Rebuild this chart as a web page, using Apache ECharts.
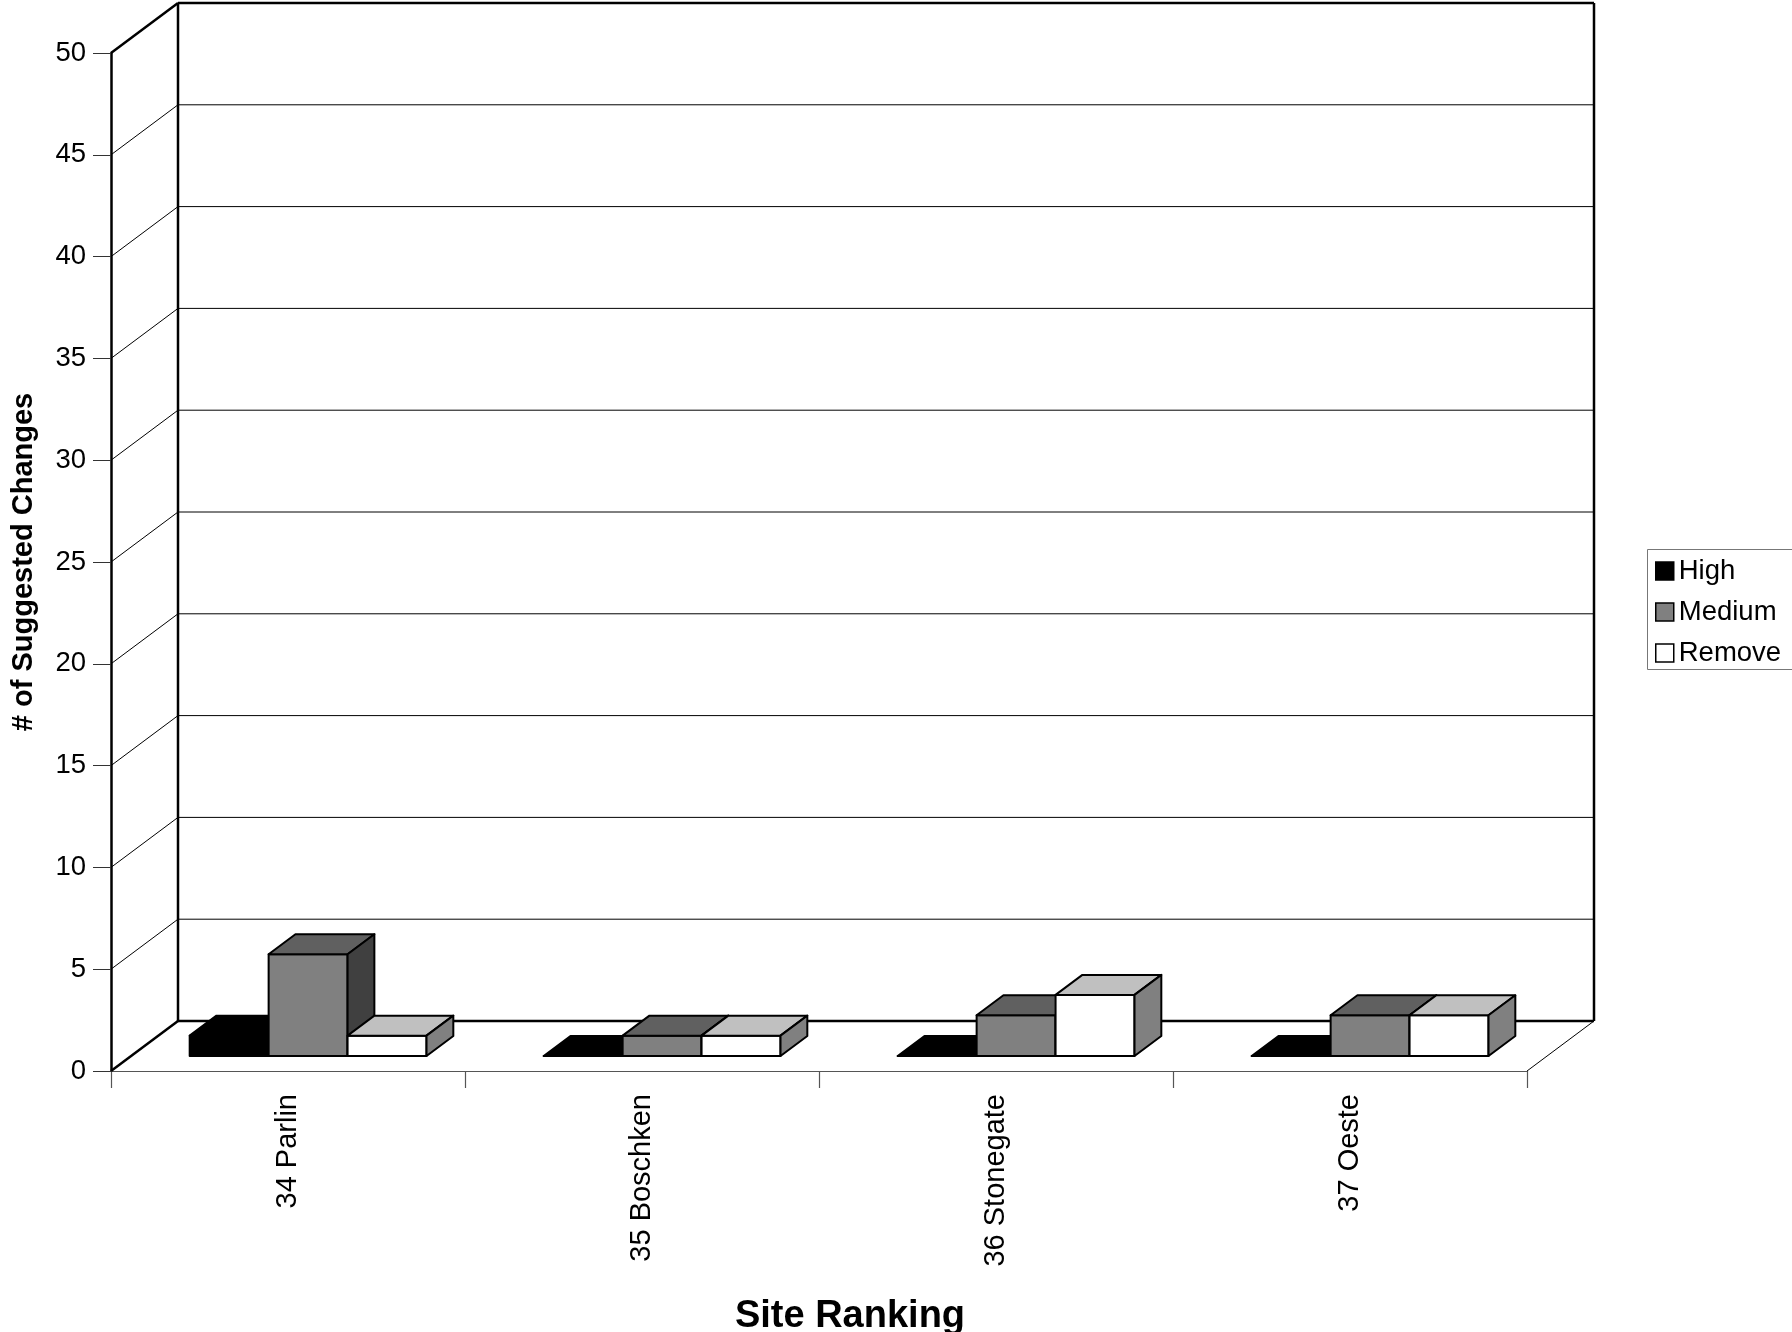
<!DOCTYPE html>
<html>
<head>
<meta charset="utf-8">
<title># of Suggested Changes by Site Ranking</title>
<script src="https://cdn.jsdelivr.net/npm/echarts@6/dist/echarts.min.js"></script>
<style>
  html, body { margin: 0; padding: 0; background: #ffffff; }
  #chart { width: 1792px; height: 1332px; }
</style>
</head>
<body>
<div id="chart"></div>
<script>
// Site categories along the floor of the 3D box
const categories = ['34 Parlin', '35 Boschken', '36 Stonegate', '37 Oeste'];

// Number of suggested changes per priority
const highValues = [1, 0, 0, 0];
const mediumValues = [5, 1, 2, 2];
const removeValues = [1, 1, 3, 2];

// Value axis ticks (walls get a gridline at each one)
const yTicks = [0, 5, 10, 15, 20, 25, 30, 35, 40, 45, 50];

const FONT = 'Liberation Sans, Arial, Helvetica, sans-serif';

// Oblique depth of the box (pixels of the receding axis)
const DEPTH_X = 67;
const DEPTH_Y = 50;
// Bars sit between 30% and 70% of the box depth
const BAR_FRONT = 0.3;
const BAR_DEPTH = 0.4;
const BAR_FRAC = 0.223;

// Face colours: front, top, side
const seriesStyles = {
  High:   { front: '#000000', top: '#000000', side: '#000000' },
  Medium: { front: '#808080', top: '#606060', side: '#404040' },
  Remove: { front: '#ffffff', top: '#c0c0c0', side: '#808080' }
};

function line(x1, y1, x2, y2, w, color) {
  return {
    type: 'line',
    shape: { x1: x1, y1: y1, x2: x2, y2: y2 },
    style: { stroke: color || '#000', lineWidth: w }
  };
}

// Walls: slanted lines on the side wall and horizontal lines on the back wall
function renderWalls(params, api) {
  const v = api.value(0);
  const cs = params.coordSys;
  const y = api.coord([0, v])[1];
  const x0 = cs.x;
  const x1 = cs.x + cs.width;
  const edge = (v === yTicks[0] || v === yTicks[yTicks.length - 1]);
  const w = edge ? 2.5 : 1;
  const children = [
    line(x0, y, x0 + DEPTH_X, y - DEPTH_Y, w),
    line(x0 + DEPTH_X, y - DEPTH_Y, x1 + DEPTH_X, y - DEPTH_Y, w)
  ];
  if (v === yTicks[0]) {
    const yTop = api.coord([0, yTicks[yTicks.length - 1]])[1];
    children.push(line(x1, y, x1 + DEPTH_X, y - DEPTH_Y, 1));
    children.push(line(x0 + DEPTH_X, y - DEPTH_Y, x0 + DEPTH_X, yTop - DEPTH_Y, 2.5));
    children.push(line(x1 + DEPTH_X, y - DEPTH_Y, x1 + DEPTH_X, yTop - DEPTH_Y, 2.5));
  }
  return { type: 'group', children: children };
}

// 3D box bar for the k-th series of a category
function makeBarRenderer(k, style) {
  return function (params, api) {
    const ci = api.value(0);
    const v = api.value(1);
    const base = api.coord([ci, 0]);
    const top = api.coord([ci, v]);
    const band = api.size([1, 0])[0];
    const bw = band * BAR_FRAC;
    const fx = base[0] - 1.5 * bw + k * bw + DEPTH_X * BAR_FRONT;
    const fyBottom = base[1] - DEPTH_Y * BAR_FRONT;
    const fyTop = top[1] - DEPTH_Y * BAR_FRONT;
    const dx = DEPTH_X * BAR_DEPTH;
    const dy = DEPTH_Y * BAR_DEPTH;
    const stroke = { stroke: '#000', lineWidth: 2, lineJoin: 'round' };
    return {
      type: 'group',
      children: [
        {
          type: 'rect',
          shape: { x: fx, y: fyTop, width: bw, height: fyBottom - fyTop },
          style: Object.assign({ fill: style.front }, stroke)
        },
        {
          type: 'polygon',
          shape: { points: [[fx, fyTop], [fx + bw, fyTop], [fx + bw + dx, fyTop - dy], [fx + dx, fyTop - dy]] },
          style: Object.assign({ fill: style.top }, stroke)
        },
        {
          type: 'polygon',
          shape: { points: [[fx + bw, fyTop], [fx + bw + dx, fyTop - dy], [fx + bw + dx, fyBottom - dy], [fx + bw, fyBottom]] },
          style: Object.assign({ fill: style.side }, stroke)
        }
      ]
    };
  };
}

function barSeries(name, values, k) {
  const st = seriesStyles[name];
  return {
    type: 'custom',
    name: name,
    clip: false,
    z: 5,
    renderItem: makeBarRenderer(k, st),
    encode: { x: 0, y: 1 },
    itemStyle: { color: st.front, borderColor: '#000' },
    data: values.map(function (v, i) { return [i, v]; })
  };
}

const chart = echarts.init(document.getElementById('chart'), null, { renderer: 'canvas' });

chart.setOption({
  backgroundColor: '#ffffff',
  animation: false,
  textStyle: { fontFamily: FONT, color: '#000' },
  grid: { left: 111, right: 265, top: 53, bottom: 261, containLabel: false },
  legend: {
    orient: 'vertical',
    left: 1647,
    top: 549,
    padding: [8, 40, 4, 8],
    itemGap: 13,
    itemWidth: 18,
    itemHeight: 18,
    selectedMode: false,
    textStyle: { fontFamily: FONT, fontSize: 27.5, color: '#000' },
    data: [
      { name: 'High', icon: 'rect', itemStyle: { color: '#000000', borderColor: '#000', borderWidth: 1.5 } },
      { name: 'Medium', icon: 'rect', itemStyle: { color: '#808080', borderColor: '#000', borderWidth: 1.5 } },
      { name: 'Remove', icon: 'rect', itemStyle: { color: '#ffffff', borderColor: '#000', borderWidth: 1.5 } }
    ]
  },
  xAxis: {
    type: 'category',
    data: categories,
    boundaryGap: true,
    axisLine: { show: true, lineStyle: { color: '#555', width: 1.2 } },
    axisTick: { show: true, length: 17, alignWithLabel: false, lineStyle: { color: '#555', width: 1.2 } },
    axisLabel: { rotate: 90, margin: 23, fontSize: 29, fontFamily: FONT, color: '#000' },
    splitLine: { show: false }
  },
  yAxis: {
    type: 'value',
    min: 0,
    max: 50,
    interval: 5,
    name: '# of Suggested Changes',
    nameLocation: 'middle',
    nameRotate: 90,
    nameGap: 73,
    nameTextStyle: { fontFamily: FONT, fontSize: 29, fontWeight: 'bold', color: '#000' },
    axisLine: { show: true, lineStyle: { color: '#000', width: 2.5 } },
    axisTick: { show: true, length: 18, lineStyle: { color: '#333', width: 1 } },
    axisLabel: { margin: 25, fontSize: 27.5, fontFamily: FONT, color: '#000' },
    splitLine: { show: false }
  },
  graphic: [
    {
      // legend frame
      type: 'rect',
      silent: true,
      z: 0,
      shape: { x: 1647.5, y: 549.5, width: 170, height: 120 },
      style: { fill: 'none', stroke: '#777', lineWidth: 1 }
    },
    {
      type: 'text',
      x: 850,
      y: 1317,
      style: {
        text: 'Site Ranking',
        font: 'bold 38px ' + FONT,
        fill: '#000',
        textAlign: 'center',
        textVerticalAlign: 'middle'
      }
    }
  ],
  series: [
    {
      type: 'custom',
      name: 'walls',
      clip: false,
      silent: true,
      z: 1,
      renderItem: renderWalls,
      encode: { y: 0 },
      data: yTicks.map(function (v) { return [v]; })
    },
    barSeries('High', highValues, 0),
    barSeries('Medium', mediumValues, 1),
    barSeries('Remove', removeValues, 2)
  ]
});
</script>
</body>
</html>
